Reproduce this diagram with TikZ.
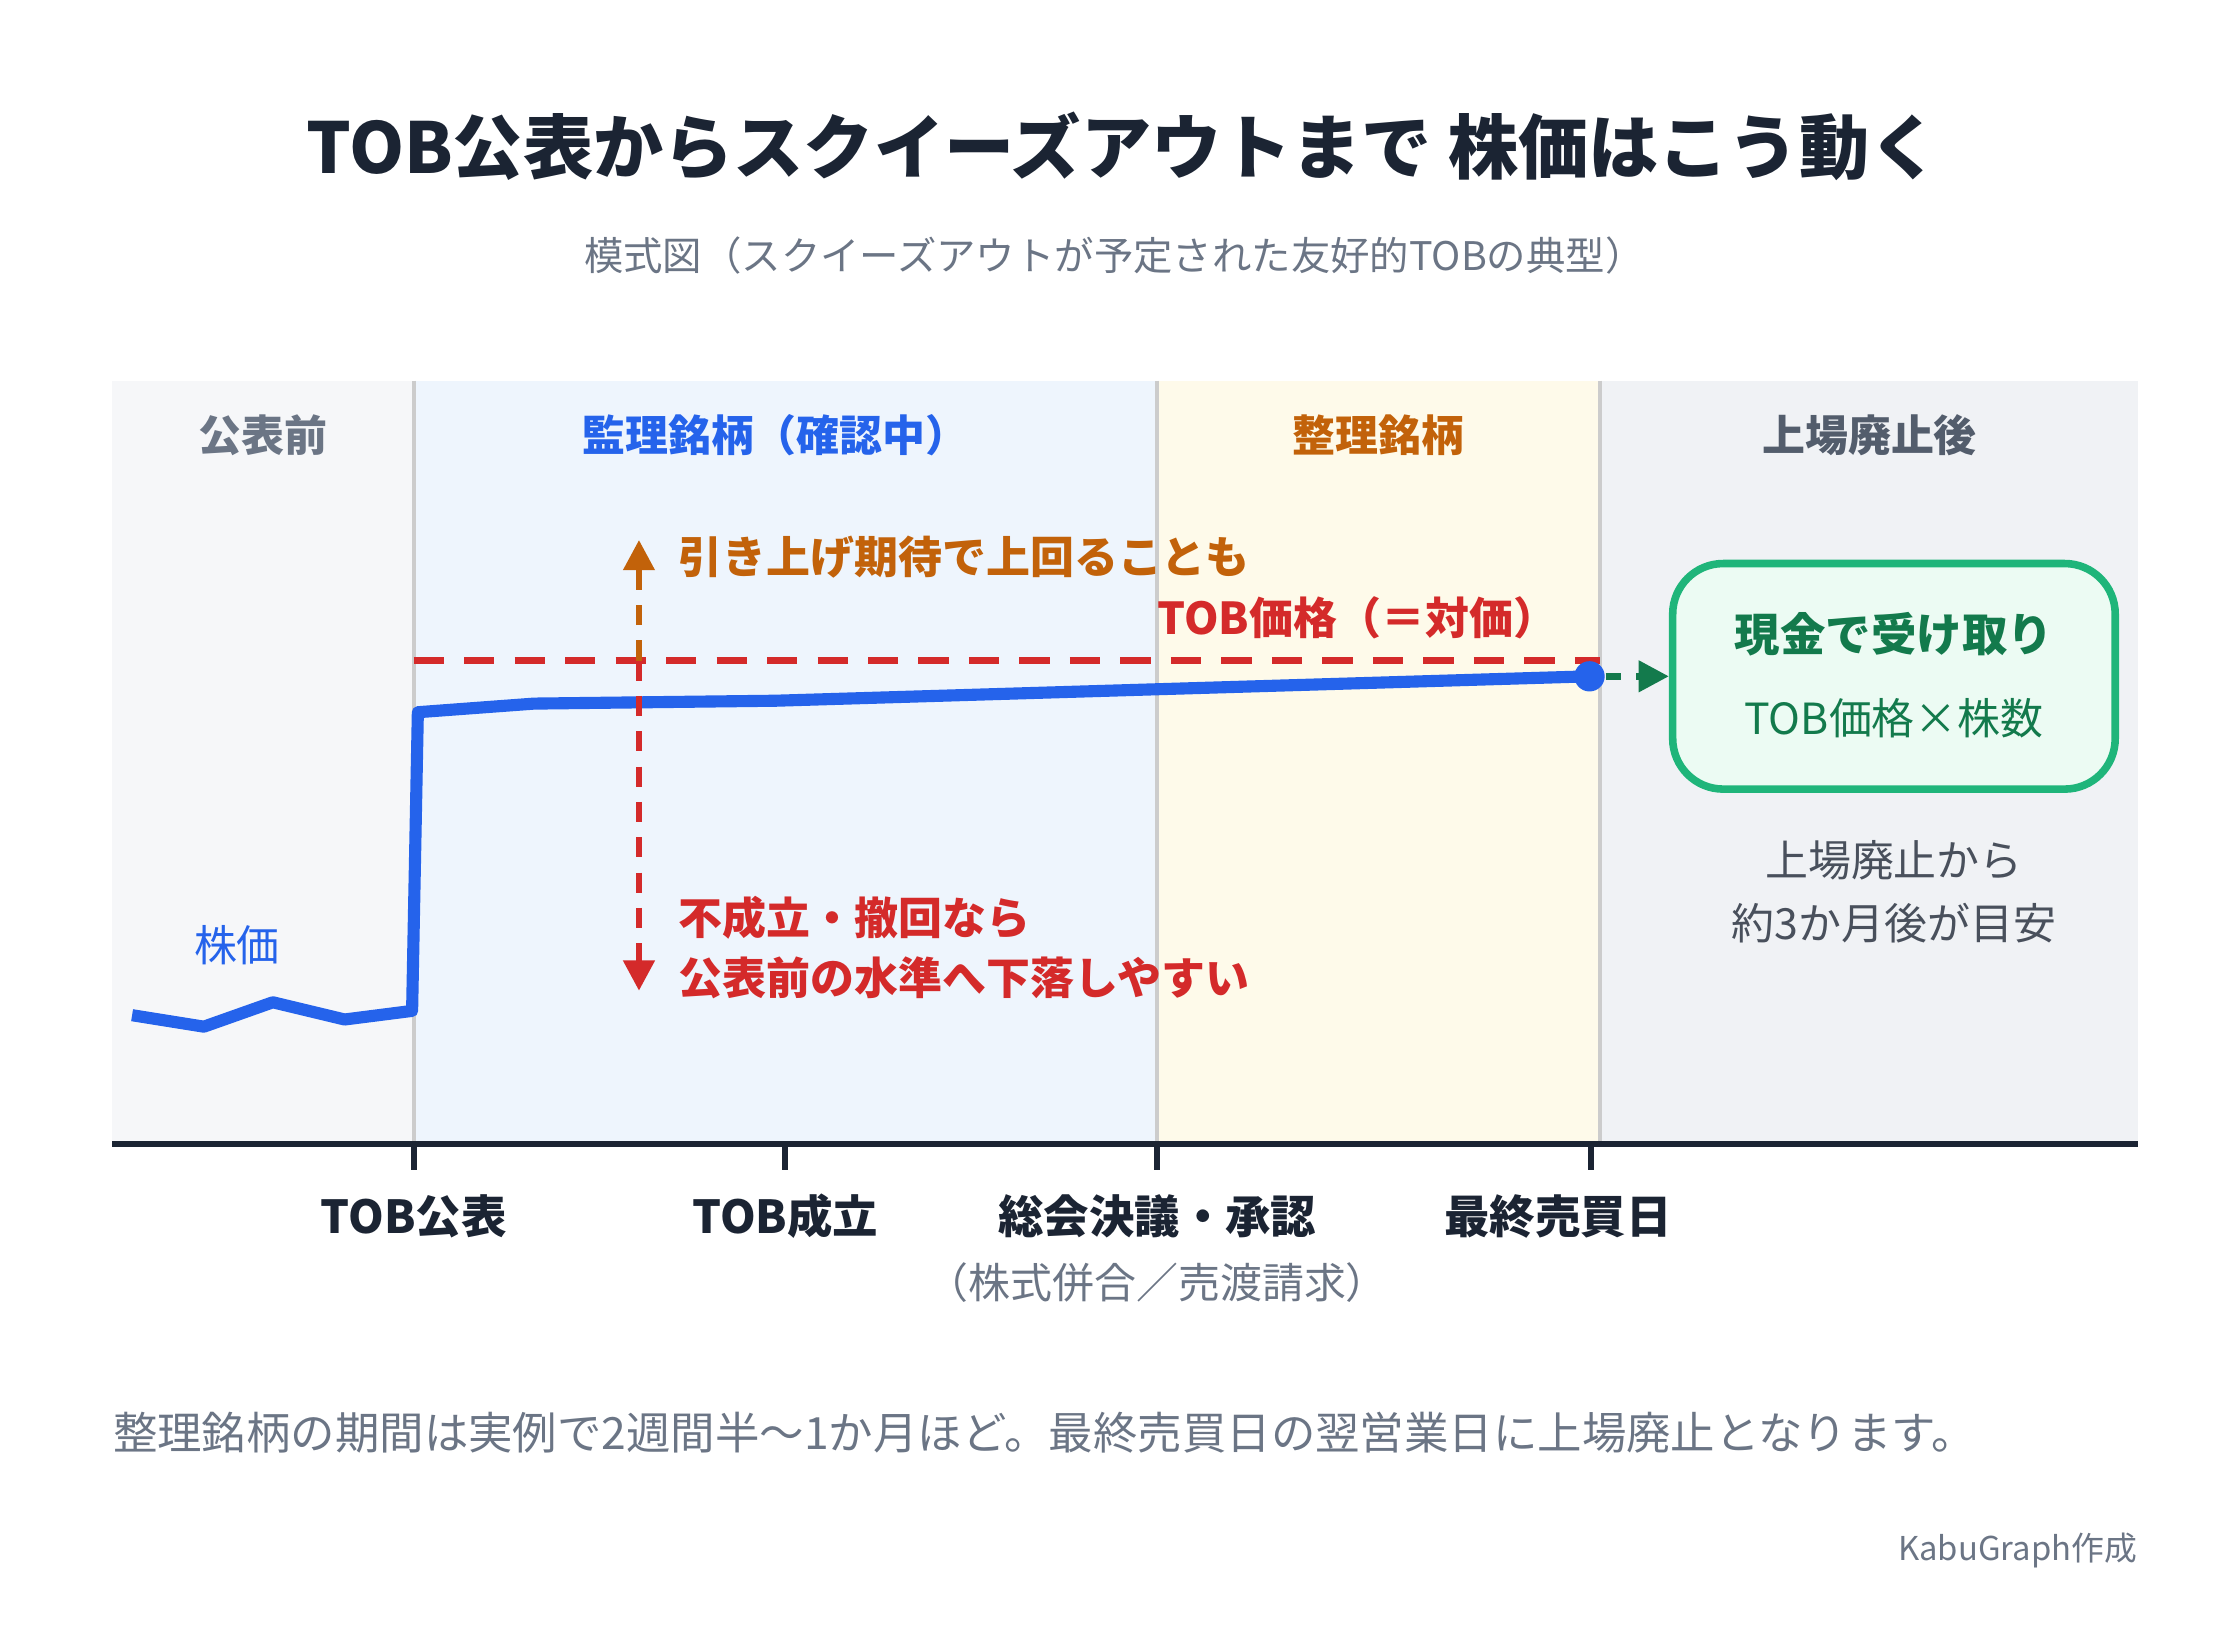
\documentclass[tikz,border=0pt]{standalone}
\usepackage{fontspec}
\setmainfont{Noto Sans CJK JP}
\usepackage{tikz}
\usetikzlibrary{arrows.meta,positioning}
\definecolor{ink}{HTML}{1B2433}
\definecolor{grayt}{HTML}{6B7585}
\definecolor{bluel}{HTML}{2563EB}
\definecolor{oran}{HTML}{C2620A}
\definecolor{redd}{HTML}{D42A2A}
\definecolor{grn}{HTML}{1FB57A}
\definecolor{grnd}{HTML}{137A4C}
\begin{document}
\begin{tikzpicture}[x=0.01cm,y=-0.01cm,
	>={Triangle[length=6pt,width=6pt]},
	txt/.style = {inner sep=0pt, font=\fontsize{8.5}{10}\selectfont},
	hd/.style = {txt, font=\fontsize{8.5}{10}\selectfont\bfseries},
	tick/.style = {txt, font=\fontsize{9}{11}\selectfont\bfseries, text=ink},
	note/.style = {txt, font=\fontsize{8.7}{12}\selectfont\bfseries, anchor=west},
	sep/.style = {draw=gray!40, line width=0.8pt}
	]
	\useasboundingbox (0,0) rectangle (1560,1142);
	
	\node[txt, font=\fontsize{13.9}{16}\selectfont\bfseries, text=ink] (title) at (782,102) {TOB公表からスクイーズアウトまで 株価はこう動く};
	\node[txt, font=\fontsize{7.8}{9}\selectfont, text=grayt] (sub) at (776,178) {模式図（スクイーズアウトが予定された友好的TOBの典型）};
	
	% bands
	\fill[fill={rgb,255:red,246;green,247;blue,249}] (78,265) rectangle (288,797);
	\fill[fill={rgb,255:red,238;green,245;blue,253}] (288,265) rectangle (806,797);
	\fill[fill={rgb,255:red,254;green,250;blue,234}] (806,265) rectangle (1114,797);
	\fill[fill={rgb,255:red,240;green,242;blue,245}] (1114,265) rectangle (1489,797);
	\foreach \x in {288,806,1114} \draw[sep] (\x,265) -- (\x,797);
	
	\node[hd, text=grayt] (h0) at (183,303) {公表前};
	\node[hd, text=bluel] (h1) at (540,303) {監理銘柄（確認中）};
	\node[hd, text=oran] (h2) at (960,303) {整理銘柄};
	\node[hd, text=grayt!70!ink] (h3) at (1302,303) {上場廃止後};
	
	% axis
	\coordinate (ax0) at (78,797);
	\coordinate (ax1) at (1489,797);
	\draw[ink, line width=1.2pt] (ax0) -- (ax1);
	\foreach \x/\n in {288/TOB公表, 547/TOB成立, 806/総会決議・承認} {
		\draw[ink, line width=1.2pt] (\x,797) -- (\x,815);
		\node[tick] at (\x,847) {\n};
	}
	\draw[ink, line width=1.2pt] (1108,797) -- (1108,815);
	\node[tick] (last) at (1085,847) {最終売買日};
	\node[txt, font=\fontsize{8.3}{10}\selectfont, text=grayt] (paren) at (806,893) {（株式併合／売渡請求）};
	
	% TOB price
	\coordinate (p0) at (288,460);
	\coordinate (p1) at (1114,460);
	\draw[redd, line width=1.3pt, dash pattern=on 6pt off 4pt] (p0) -- (p1);
	\node[note, anchor=east, text=redd] (tobp) at (1085,430) {TOB価格（＝対価）};
	
	% price line
	\draw[bluel, line width=2.4pt, line join=round] (92,707) -- (142,715) -- (190,698) -- (240,710) -- (287,704) -- (291,496) -- (372,490) -- (540,488) -- (806,480) -- (1107,471);
	\node[circle, fill=bluel, inner sep=0pt, minimum size=6pt] (end) at (1107,471) {};
	\node[txt, font=\fontsize{8.5}{10}\selectfont, text=bluel] (kabu) at (165,658) {株価};
	
	% cash box
	\node[draw=grn, line width=1.5pt, rounded corners=10pt, fill={rgb,255:red,236;green,251;blue,243},
		minimum width=3.08cm, minimum height=1.57cm] (cash) at (1319,471) {};
	\node[txt, font=\fontsize{9}{11}\selectfont\bfseries, text=grnd] (cash1) at (1319,442) {現金で受け取り};
	\node[txt, font=\fontsize{8.5}{10}\selectfont, text=grnd] (cash2) at (1319,500) {TOB価格×株数};
	\draw[->, grnd, line width=1.3pt, dash pattern=on 3pt off 3pt] (end) -- (cash);
	\node[txt, font=\fontsize{8.5}{12.5}\selectfont, text=ink!80, align=center] (delist) at (1319,621) {上場廃止から\\約3か月後が目安};
	
	% up / down
	\coordinate (mid) at (445,460);
	\coordinate (up) at (445,376);
	\coordinate (down) at (445,690);
	\draw[->, oran, line width=1.3pt, dash pattern=on 4pt off 3pt] (mid) -- (up);
	\draw[->, redd, line width=1.3pt, dash pattern=on 4pt off 3pt] (mid) -- (down);
	\node[note, text=oran] (upt) at (472,388) {引き上げ期待で上回ることも};
	\node[note, text=redd, align=left] (downt) at (472,660) {不成立・撤回なら\\公表前の水準へ下落しやすい};
	
	\node[txt, anchor=west, font=\fontsize{8.8}{10}\selectfont, text=grayt] (foot) at (78,998) {整理銘柄の期間は実例で2週間半〜1か月ほど。最終売買日の翌営業日に上場廃止となります。};
	\node[txt, anchor=east, font=\fontsize{6.5}{8}\selectfont, text=grayt] (credit) at (1489,1080) {KabuGraph作成};
\end{tikzpicture}
\end{document}
